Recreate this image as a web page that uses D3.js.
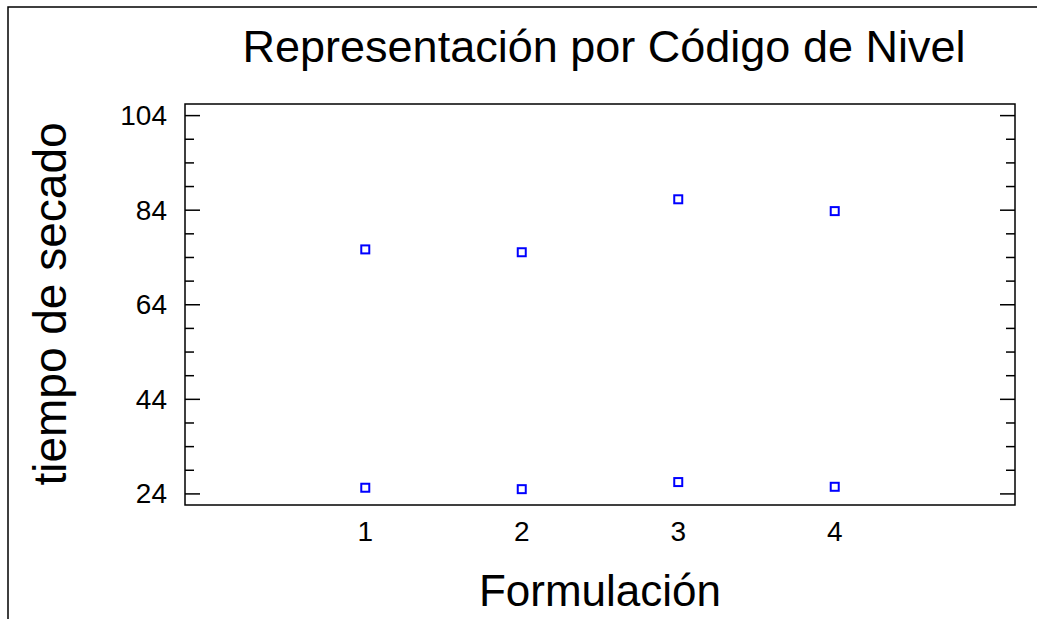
<!DOCTYPE html>
<html>
<head>
<meta charset="utf-8">
<script src="https://cdn.jsdelivr.net/npm/d3@7"></script>
<style>
  body { margin: 0; background: #fff; }
  text { font-family: "Liberation Sans", Arial, sans-serif; fill: #000; }
</style>
</head>
<body>
<div id="content"></div>
<script>
// Screen dimensions
var w = 1037;
var h = 619;

// Data
var levels = [1, 2, 3, 4];
var lowValues = [25.2, 24.9, 26.4, 25.4];
var highValues = [75.6, 75.0, 86.2, 83.7];
var yTicks = [24, 44, 64, 84, 104];
var title = "Representación por Código de Nivel";
var xTitle = "Formulación";
var yTitle = "tiempo de secado";

// Plot area
var pLeft = 185, pRight = 1015, pTop = 104, pBottom = 505;

var x = d3.scaleLinear().domain([-0.152, 5.152]).range([pLeft, pRight]);
var y = d3.scaleLinear().domain([21.55, 106.35]).range([pBottom, pTop]);

var svg = d3.select("#content")
    .append("svg")
    .attr("width", w)
    .attr("height", h);

svg.append("rect")
   .attr("width", w)
   .attr("height", h)
   .attr("fill", "#fff");

// outer frame (runs off the right and bottom edge)
svg.append("rect")
   .attr("x", 8)
   .attr("y", 7)
   .attr("width", w + 20)
   .attr("height", h + 20)
   .attr("fill", "none")
   .attr("stroke", "#000")
   .attr("stroke-width", 1.5);

// minor ticks every 5
var minor = d3.range(24, 105, 5).filter(function(v) { return yTicks.indexOf(v) < 0; });

function ticks(g, axis, vals, size) {
	g.call(axis(y).tickValues(vals).tickSize(size).tickFormat(""))
	 .call(function(s) { s.select(".domain").remove(); });
}

// left axis
svg.append("g").attr("transform", "translate(" + pLeft + ",0)")
   .call(ticks, d3.axisRight, minor, 9);
svg.append("g").attr("transform", "translate(" + pLeft + ",0)")
   .call(ticks, d3.axisRight, yTicks, 15);
// right axis
svg.append("g").attr("transform", "translate(" + pRight + ",0)")
   .call(ticks, d3.axisLeft, minor, 9);
svg.append("g").attr("transform", "translate(" + pRight + ",0)")
   .call(ticks, d3.axisLeft, yTicks, 15);

svg.selectAll(".tick line").attr("stroke", "#000").attr("stroke-width", 1.5);

// tick labels
svg.selectAll(".ylab")
   .data(yTicks)
   .enter()
   .append("text")
   .attr("x", pLeft - 18)
   .attr("y", function(d) { return y(d) + 10; })
   .attr("text-anchor", "end")
   .style("font-size", "28px")
   .text(function(d) { return d; });

svg.selectAll(".xlab")
   .data(levels)
   .enter()
   .append("text")
   .attr("x", function(d) { return x(d); })
   .attr("y", 541)
   .attr("text-anchor", "middle")
   .style("font-size", "28px")
   .text(function(d) { return d; });

// plot box
svg.append("rect")
   .attr("x", pLeft)
   .attr("y", pTop)
   .attr("width", pRight - pLeft)
   .attr("height", pBottom - pTop)
   .attr("fill", "none")
   .attr("stroke", "#000")
   .attr("stroke-width", 1.5);

// points
var pts = [];
levels.forEach(function(l, i) {
	pts.push([l, highValues[i]]);
	pts.push([l, lowValues[i]]);
});
svg.selectAll(".pt")
   .data(pts)
   .enter()
   .append("rect")
   .attr("x", function(d) { return x(d[0]) - 4; })
   .attr("y", function(d) { return y(d[1]) - 4; })
   .attr("width", 8)
   .attr("height", 8)
   .attr("fill", "none")
   .attr("stroke", "#0000ff")
   .attr("stroke-width", 2);

// titles
svg.append("text")
   .attr("x", 604)
   .attr("y", 62)
   .attr("text-anchor", "middle")
   .style("font-size", "45px")
   .text(title);

svg.append("text")
   .attr("x", 600)
   .attr("y", 606)
   .attr("text-anchor", "middle")
   .style("font-size", "44px")
   .text(xTitle);

svg.append("text")
   .attr("transform", "translate(66,304) rotate(-90)")
   .attr("text-anchor", "middle")
   .style("font-size", "46px")
   .text(yTitle);
</script>
</body>
</html>
